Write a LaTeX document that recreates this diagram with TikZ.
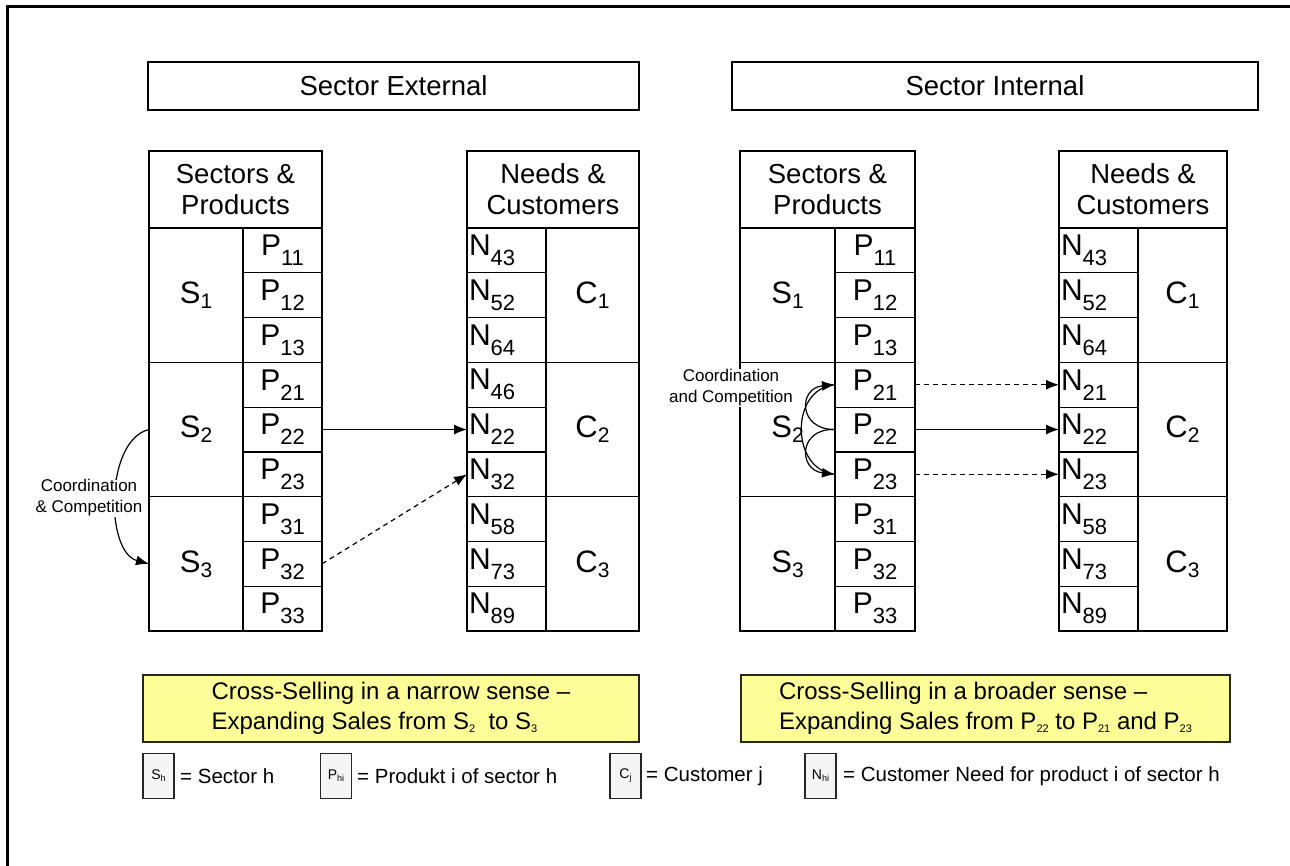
\documentclass[tikz,border=0pt]{standalone}
\usepackage{fontspec}
\setmainfont{Liberation Sans}
\usetikzlibrary{arrows.meta}

\definecolor{bannerfill}{RGB}{255,255,153}
\newcommand\fsz[2]{\fontsize{#1}{#2}\selectfont}
% letter with its index set low (products, needs)
\newcommand\deepsub[2]{{\fsz{30}{30}#1}\raisebox{-10pt}{\fsz{22}{22}#2}}
% letter with an ordinary index (sectors, customers)
\newcommand\flatsub[2]{{\fsz{31}{31}#1}\raisebox{-5pt}{\fsz{21}{21}#2}}
% small index inside running text
\newcommand\tinysub[1]{\raisebox{-3pt}{\fsz{11}{11}#1}}
% index used in the key boxes
\newcommand\keysub[2]{{\fsz{14}{14}#1\raisebox{-2pt}{\fsz{9}{9}#2}}}

\begin{document}
\begin{tikzpicture}[x=1pt,y=-1pt,
  cell/.style={draw=black, line width=1.2pt, inner sep=0pt, outer sep=0pt, align=center},
  head/.style={cell, font=\fsz{27.5}{31}},
  needcell/.style={cell, text width=75pt, inner xsep=2pt, align=left},
  conn/.style={line width=1.2pt, -{Latex[length=13pt,width=10pt]}},
  dconn/.style={conn, dash pattern=on 5pt off 4pt},
  note/.style={fill=white, inner sep=1pt, align=center, font=\fsz{17}{21}},
  keybox/.style={draw=black!85, line width=1.2pt, fill=black!4, minimum width=31, minimum height=45, inner sep=0pt},
  keytext/.style={anchor=west, inner sep=0pt, font=\fsz{20.5}{25}},
  banner/.style={draw=black!85, line width=1.4pt, fill=bannerfill, align=left, font=\fsz{24}{30}},
]
\useasboundingbox (0,0) rectangle (1290,866);

% outer frame
\draw[line width=3pt] (7,866) -- (7,7) -- (1290,7);

% titles
\node[head, minimum width=491, minimum height=48] (TE) at (393.5,86) {Sector External};
\node[head, minimum width=526, minimum height=48] (TI) at (995,86) {Sector Internal};

% ---------- sector external ----------
\node[head, minimum width=173, minimum height=77] (LH) at (235.5,189.5) {Sectors \&\\Products};
\node[head, minimum width=172, minimum height=77] (LNH) at (553,189.5) {Needs \&\\Customers};
\foreach \s in {1,2,3}{
  \node[cell, minimum width=94, minimum height=134.34] (LS\s) at (196,{228+134.34*(\s-0.5)}) {\flatsub{S}{\s}};
  \node[cell, minimum width=93, minimum height=134.34] (LC\s) at (592.5,{228+134.34*(\s-0.5)}) {\flatsub{C}{\s}};
  \foreach \p in {1,2,3}{
    \node[cell, minimum width=79, minimum height=44.78] (LP\s\p) at (282.5,{228+44.78*(3*\s+\p-3.5)}) {\deepsub{P}{\s\p}};
  }
}
\foreach \n [count=\i] in {43,52,64,46,22,32,58,73,89}{
  \node[needcell, minimum height=44.78] (LN\i) at (506.5,{228+44.78*(\i-0.5)}) {\deepsub{N}{\n}};
}

\draw[conn] (LP22.east) -- (LN5.west);
\draw[dconn] (LP32.east) -- (LN6.west);
\draw[conn] (LS2.west) .. controls (105,440) and (105,552) .. (LS3.west);
\node[note] (LCo) at (89,498) {Coordination\\\& Competition};

% ---------- sector internal ----------
\node[head, minimum width=175, minimum height=77] (RH) at (827.5,189.5) {Sectors \&\\Products};
\node[head, minimum width=168, minimum height=77] (RNH) at (1143,189.5) {Needs \&\\Customers};
\foreach \s in {1,2,3}{
  \node[cell, minimum width=95, minimum height=134.34] (RS\s) at (787.5,{228+134.34*(\s-0.5)}) {\flatsub{S}{\s}};
  \node[cell, minimum width=89, minimum height=134.34] (RC\s) at (1182.5,{228+134.34*(\s-0.5)}) {\flatsub{C}{\s}};
  \foreach \p in {1,2,3}{
    \node[cell, minimum width=80, minimum height=44.78] (RP\s\p) at (875,{228+44.78*(3*\s+\p-3.5)}) {\deepsub{P}{\s\p}};
  }
}
\foreach \n [count=\i] in {43,52,64,21,22,23,58,73,89}{
  \node[needcell, minimum height=44.78] (RN\i) at (1098.5,{228+44.78*(\i-0.5)}) {\deepsub{N}{\n}};
}

\draw[dconn] (RP21.east) -- (RN4.west);
\draw[conn] (RP22.east) -- (RN5.west);
\draw[dconn] (RP23.east) -- (RN6.west);
\draw[conn] (RP22.west) .. controls (798,430) and (798,388) .. (RP21.west);
\draw[conn] (RP22.west) .. controls (798,428) and (798,470) .. (RP23.west);
\draw[line width=1.2pt] (RP21.west) .. controls (790,388) and (790,470) .. (RP23.west);
\node[note] (RCo) at (731,388) {Coordination\\and Competition};

% ---------- summaries ----------
\node[banner, minimum width=496, minimum height=67] (BL) at (391,708.5)
  {Cross-Selling in a narrow sense –\\Expanding Sales from S\tinysub{2}\ \ to S\tinysub{3}};
\node[banner, minimum width=489, minimum height=67] (BR) at (985.5,708.5)
  {Cross-Selling in a broader sense –\\Expanding Sales from P\tinysub{22} to P\tinysub{21} and P\tinysub{23}};

% ---------- key ----------
\node[keybox] (KS) at (158.5,776) {\keysub{S}{h}};
\node[keytext] (KSt) at (180,776) {= Sector h};
\node[keybox] (KP) at (336,776) {\keysub{P}{hi}};
\node[keytext] (KPt) at (357,776) {= Produkt i of sector h};
\node[keybox] (KC) at (625.5,776) {\keysub{C}{j}};
\node[keytext] (KCt) at (646,776) {= Customer j};
\node[keybox] (KN) at (820.5,776) {\keysub{N}{hi}};
\node[keytext] (KNt) at (843,776) {= Customer Need for product i of sector h};
\end{tikzpicture}
\end{document}
